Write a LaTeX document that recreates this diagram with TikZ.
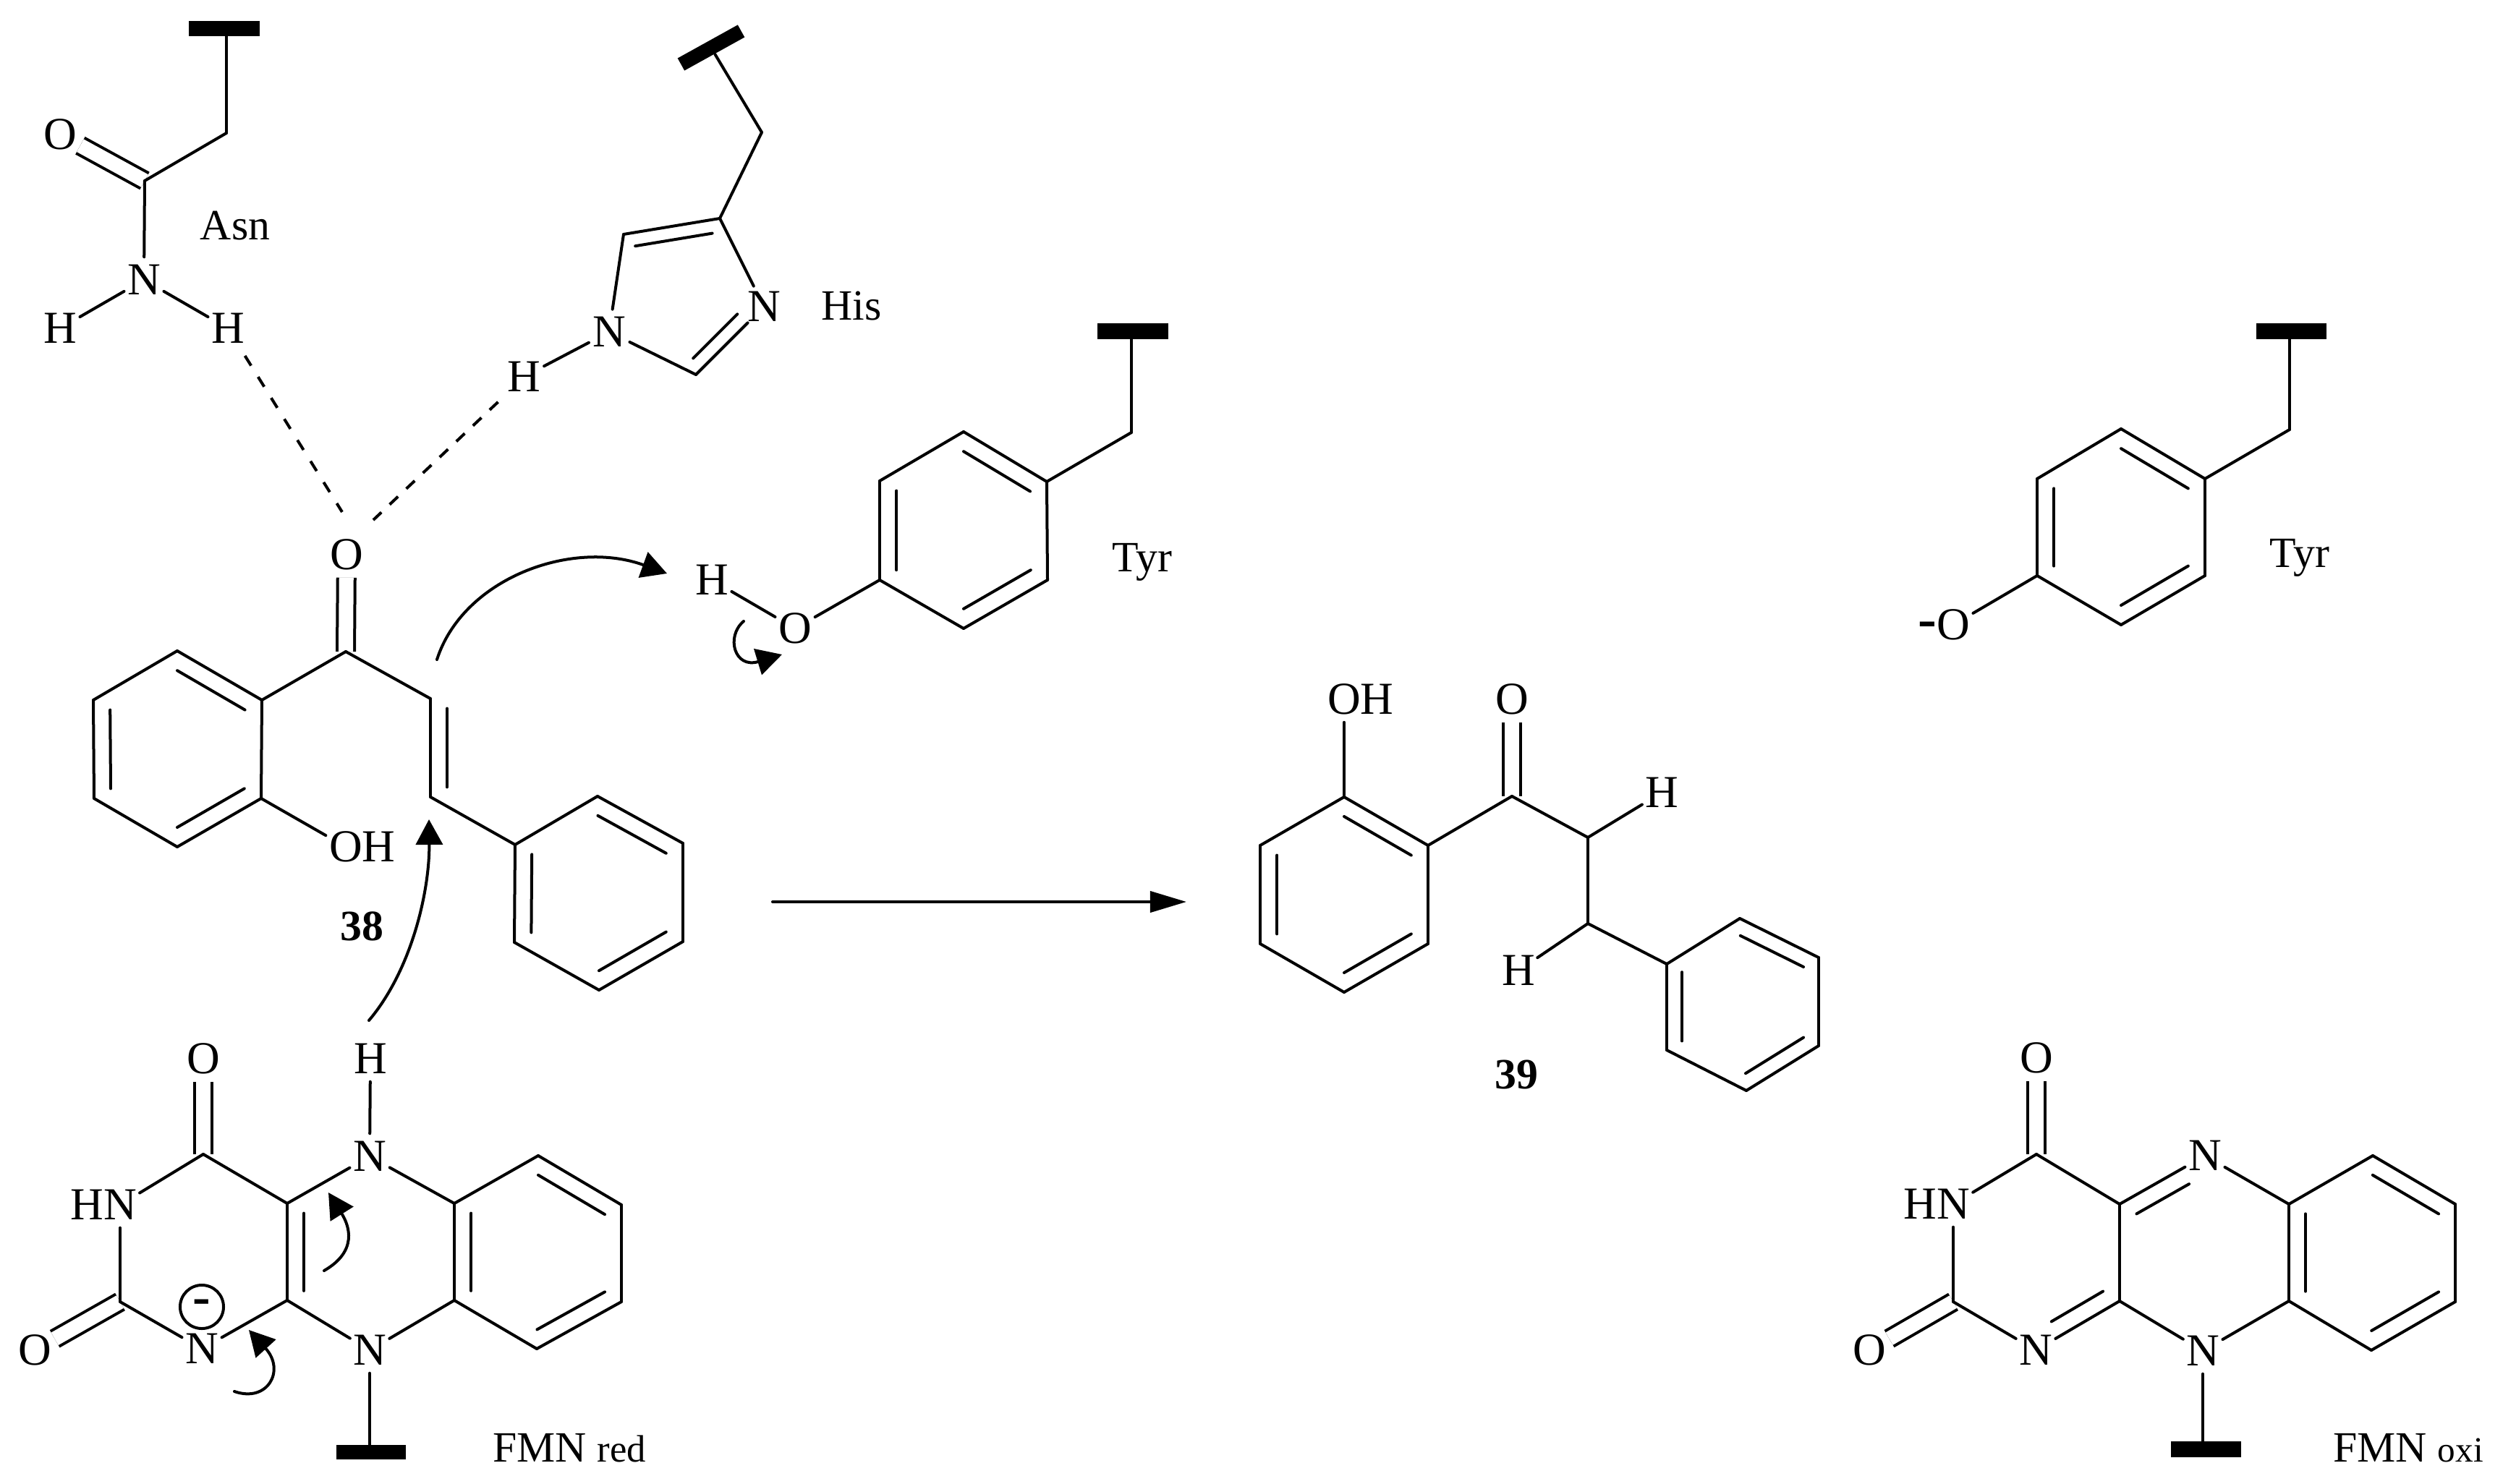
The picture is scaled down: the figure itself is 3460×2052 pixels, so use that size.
\documentclass[tikz,border=0pt]{standalone}
\usepackage{fontspec}
\setmainfont{Liberation Serif}
\usepackage{tikz}
\usetikzlibrary{shapes}
\usetikzlibrary{arrows.meta}
\usetikzlibrary{calc}
\tikzstyle{atom}=[circle,inner sep=0pt,minimum size=0.62cm,font=\fontsize{18}{21}\selectfont]
\tikzstyle{etiquette}=[anchor=base,inner sep=0pt,font=\fontsize{17}{20}\selectfont]
\tikzstyle{numero}=[etiquette,font=\fontsize{17}{20}\selectfont\bfseries]
\tikzstyle{barre}=[rectangle,fill=black,inner sep=0pt,minimum width=0.97cm,minimum height=0.21cm]
\tikzstyle{charge}=[circle,draw,line width=0.04cm,inner sep=0pt,minimum size=0.6cm,font=\fontsize{21}{24}\selectfont\bfseries]
\tikzstyle{bond}=[line width=0.04cm,line cap=round,line join=miter]
\tikzstyle{dbl}=[line width=0.04cm,double,double distance=0.2cm,line cap=butt]
\tikzstyle{hbond}=[line width=0.04cm,dash pattern=on 1.6mm off 1.83mm]
\tikzstyle{curly}=[->,>={Triangle[length=3.5mm,width=3.7mm]},line width=0.04cm,line cap=round]
\tikzstyle{suite}=[->,>={Triangle[length=5mm,width=2.9mm]},line width=0.04cm,line cap=round]
\newcommand{\ringbond}[4][0pt]{\draw[bond,shorten >=#1] ($(#2)!.2!(#4)$) -- ($(#3)!.2!(#4)$);}
\begin{document}
\begin{tikzpicture}[x=0.01cm,y=-0.01cm]
\useasboundingbox (0,0) rectangle (3460,2052);
%Asn
\node[barre] (asnbar) at (310,40) {};
\coordinate (asnch) at (313,184);
\coordinate (asnc) at (200,250);
\node[atom] (asno) at (83,186) {O};
\node[atom] (asnn) at (199,387) {N};
\node[atom] (asnha) at (83,454) {H};
\node[atom] (asnhb) at (315,454) {H};
\node[etiquette] (asnlab) at (325,332) {Asn};
\draw[dbl] (asno) -- (asnc);
\draw[bond] (asnch |- asnbar) -- (asnch);
\foreach \a/\b in {asnch/asnc,asnc/asnn,asnn/asnha,asnn/asnhb}
  \draw[bond] (\a) -- (\b);
%His
\node[barre,rotate=29,minimum width=0.95cm,minimum height=0.195cm] (hisbar) at (983,66) {};
\coordinate (hisch) at (1053,183);
\coordinate (hisa) at (995,302);
\coordinate (hisb) at (862,324);
\coordinate (hisd) at (962,518);
\coordinate (hisc) at (943,405);
\node[atom] (hisna) at (842,459) {N};
\node[atom] (hisnb) at (1056,424) {N};
\node[atom] (hish) at (724,521) {H};
\node[etiquette] (hislab) at (1177,443) {His};
\foreach \a/\b in {hisbar/hisch,hisch/hisa,hisa/hisb,hisb/hisna,hisna/hish,hisna/hisd,hisd/hisnb,hisnb/hisa}
  \draw[bond] (\a) -- (\b);
\ringbond{hisb}{hisa}{hisc}
\ringbond[0.2cm]{hisd}{hisnb}{hisc}
%38
\node[atom] (cono) at (479,767) {O};
\coordinate (conc) at (478,901);
\coordinate (vina) at (595,966);
\coordinate (vinb) at (595,1102);
\coordinate (vinc) at (710,1034);
\coordinate (aa) at (245,900);
\coordinate (ab) at (362,968);
\coordinate (ac) at (361,1104);
\coordinate (ad) at (245,1171);
\coordinate (ae) at (130,1104);
\coordinate (af) at (129,968);
\coordinate (acen) at (245,1036);
\node[atom] (aoh) at (478,1171) {O\rlap{H}};
\coordinate (ba) at (712,1168);
\coordinate (bb) at (826,1101);
\coordinate (bc) at (944,1166);
\coordinate (bd) at (944,1302);
\coordinate (be) at (828,1369);
\coordinate (bf) at (711,1303);
\coordinate (bcen) at (828,1235);
\node[numero] (num38) at (500,1300) {38};
\draw[dbl] (cono) -- (conc);
\foreach \a/\b in {conc/ab,conc/vina,vina/vinb,vinb/ba,aa/ab,ab/ac,ac/ad,ad/ae,ae/af,af/aa,ac/aoh,ba/bb,bb/bc,bc/bd,bd/be,be/bf,bf/ba}
  \draw[bond] (\a) -- (\b);
\ringbond{vina}{vinb}{vinc}
\ringbond{aa}{ab}{acen}
\ringbond{ac}{ad}{acen}
\ringbond{ae}{af}{acen}
\ringbond{bb}{bc}{bcen}
\ringbond{bd}{be}{bcen}
\ringbond{bf}{ba}{bcen}
%Tyr
\node[barre,minimum width=0.97cm,minimum height=0.21cm] (tyrbar) at (1566,458) {};
\coordinate (tyrch) at (1564,598);
\coordinate (ta) at (1332,597);
\coordinate (tb) at (1447,666);
\coordinate (tc) at (1448,802);
\coordinate (td) at (1332,869);
\coordinate (te) at (1216,802);
\coordinate (tf) at (1216,665);
\coordinate (tcen) at (1332,733);
\node[atom] (tyro) at (1099,869) {O};
\node[atom] (tyrh) at (984,802) {H};
\node[etiquette] (tyrlab) at (1579,790) {Tyr};
\draw[bond] (tyrch |- tyrbar) -- (tyrch);
\foreach \a/\b in {tyrch/tb,ta/tb,tb/tc,tc/td,td/te,te/tf,tf/ta,te/tyro,tyro/tyrh}
  \draw[bond] (\a) -- (\b);
\ringbond{ta}{tb}{tcen}
\ringbond{tc}{td}{tcen}
\ringbond{te}{tf}{tcen}
%FMN red
\node[atom] (ro) at (281,1464) {O};
\coordinate (rca) at (281,1596);
\node[atom] (rnh) at (166,1666) {\llap{H}N};
\coordinate (rcb) at (166,1800);
\node[atom] (roo) at (48,1867) {O};
\node[atom] (rn) at (279,1865) {N};
\node[charge] (rmoins) at (279,1807) {-};
\coordinate (rcc) at (397,1798);
\coordinate (rcd) at (397,1664);
\node[atom] (rnb) at (511,1599) {N};
\node[atom] (rh) at (512,1464) {H};
\node[atom] (rnc) at (511,1867) {N};
\coordinate (rmid) at (512,1732);
\coordinate (ra) at (628,1664);
\coordinate (rb) at (744,1598);
\coordinate (rc) at (859,1666);
\coordinate (rd) at (859,1800);
\coordinate (re) at (742,1865);
\coordinate (rf) at (628,1798);
\coordinate (rbcen) at (744,1732);
\node[barre,minimum width=0.96cm,minimum height=0.2cm] (rbar) at (513,2008) {};
\node[etiquette] (rlab) at (787,2021) {FMN {\fontsize{15}{18}\selectfont red}};
\draw[dbl] (ro) -- (rca);
\draw[dbl] (roo) -- (rcb);
\foreach \a/\b in {rca/rnh,rca/rcd,rnh/rcb,rcb/rn,rn/rcc,rcc/rcd,rcd/rnb,rnb/rh,rnb/ra,rcc/rnc,rnc/rf,ra/rb,rb/rc,rc/rd,rd/re,re/rf,rf/ra}
  \draw[bond] (\a) -- (\b);
\draw[bond] (rnc) -- (rnc |- rbar);
\ringbond{rcc}{rcd}{rmid}
\ringbond{rf}{ra}{rbcen}
\ringbond{rb}{rc}{rbcen}
\ringbond{rd}{re}{rbcen}
%39
\node[atom] (poh) at (1858,967) {O\rlap{H}};
\node[atom] (po) at (2090,967) {O};
\coordinate (pc) at (2090,1101);
\coordinate (pch) at (2195,1158);
\coordinate (pcg) at (2195,1277);
\node[atom] (pha) at (2297,1096) {H};
\node[atom] (phb) at (2099,1342) {H};
\coordinate (ca) at (1858,1102);
\coordinate (cb) at (1974,1169);
\coordinate (cc) at (1974,1305);
\coordinate (cd) at (1858,1372);
\coordinate (ce) at (1742,1305);
\coordinate (cf) at (1742,1169);
\coordinate (ccen) at (1858,1237);
\coordinate (da) at (2304,1333);
\coordinate (db) at (2405,1270);
\coordinate (dc) at (2514,1324);
\coordinate (dd) at (2514,1446);
\coordinate (de) at (2414,1508);
\coordinate (df) at (2304,1452);
\coordinate (dcen) at (2409,1389);
\node[numero] (num39) at (2096,1505) {39};
\draw[dbl] (po) -- (pc);
\foreach \a/\b in {poh/ca,ca/cb,cb/cc,cc/cd,cd/ce,ce/cf,cf/ca,cb/pc,pc/pch,pch/pha,pch/pcg,pcg/phb,pcg/da,da/db,db/dc,dc/dd,dd/de,de/df,df/da}
  \draw[bond] (\a) -- (\b);
\ringbond{ca}{cb}{ccen}
\ringbond{cc}{cd}{ccen}
\ringbond{ce}{cf}{ccen}
\ringbond{db}{dc}{dcen}
\ringbond{dd}{de}{dcen}
\ringbond{df}{da}{dcen}
%Tyr droite
\node[barre] (qbar) at (3167,458) {};
\coordinate (qch) at (3165,594);
\coordinate (qa) at (2932,593);
\coordinate (qb) at (3048,662);
\coordinate (qc) at (3048,796);
\coordinate (qd) at (2932,864);
\coordinate (qe) at (2816,796);
\coordinate (qf) at (2816,662);
\coordinate (qcen) at (2932,729);
\node[atom] (qo) at (2700,864) {\llap{\raisebox{1pt}{\fontsize{22}{24}\selectfont\bfseries -}}O};
\node[etiquette] (qlab) at (3179,784) {Tyr};
\draw[bond] (qch |- qbar) -- (qch);
\foreach \a/\b in {qch/qb,qa/qb,qb/qc,qc/qd,qd/qe,qe/qf,qf/qa,qe/qo}
  \draw[bond] (\a) -- (\b);
\ringbond{qa}{qb}{qcen}
\ringbond{qc}{qd}{qcen}
\ringbond{qe}{qf}{qcen}
%FMN oxi
\node[atom] (xo) at (2815,1463) {O};
\coordinate (xca) at (2815,1596);
\node[atom] (xnh) at (2700,1665) {\llap{H}N};
\coordinate (xcb) at (2700,1800);
\node[atom] (xoo) at (2584,1867) {O};
\node[atom] (xn) at (2814,1867) {N};
\coordinate (xcc) at (2930,1799);
\coordinate (xcd) at (2930,1665);
\node[atom] (xnb) at (3048,1598) {N};
\node[atom] (xnc) at (3045,1868) {N};
\coordinate (xcen) at (2815,1732);
\coordinate (xmid) at (3047,1732);
\coordinate (xa) at (3164,1665);
\coordinate (xb) at (3280,1598);
\coordinate (xc) at (3394,1665);
\coordinate (xd) at (3394,1800);
\coordinate (xe) at (3278,1867);
\coordinate (xf) at (3164,1799);
\coordinate (xbcen) at (3279,1732);
\node[barre,minimum height=0.22cm] (xbar) at (3049,2004) {};
\node[etiquette] (xlab) at (3329,2021) {FMN {\fontsize{14}{17}\selectfont oxi}};
\draw[dbl] (xo) -- (xca);
\draw[dbl] (xoo) -- (xcb);
\foreach \a/\b in {xca/xnh,xca/xcd,xnh/xcb,xcb/xn,xn/xcc,xcc/xcd,xcd/xnb,xcc/xnc,xnb/xa,xnc/xf,xa/xb,xb/xc,xc/xd,xd/xe,xe/xf,xf/xa}
  \draw[bond] (\a) -- (\b);
\draw[bond] (xnc) -- (xnc |- xbar);
\ringbond[0.25cm]{xcd}{xnb}{xmid}
\ringbond[0.25cm]{xcc}{xn}{xcen}
\ringbond{xf}{xa}{xbcen}
\ringbond{xb}{xc}{xbcen}
\ringbond{xd}{xe}{xbcen}
%liaisons hydrogene
\coordinate (hba) at (473,708);
\coordinate (hbb) at (516,719);
\draw[hbond,shorten <=1.3mm] (asnhb) -- (hba);
\draw[hbond,shorten <=1.8mm,dash pattern=on 1.6mm off 1.57mm] (hish.south west) -- (hbb);
%fleches
\coordinate (fa) at (604,912);
\coordinate (fb) at (922,793);
\coordinate (fc) at (510,1411);
\coordinate (fd) at (593,1133);
\coordinate (fe) at (1028,859);
\coordinate (ff) at (1081,905);
\coordinate (fg) at (448,1757);
\coordinate (fh) at (454,1649);
\coordinate (fi) at (324,1924);
\coordinate (fj) at (344,1839);
\coordinate (fk) at (1068,1247);
\coordinate (fl) at (1640,1247);
\draw[curly] (fa) .. controls (640,800) and (790,745) .. (fb);
\draw[curly] (fc) .. controls (570,1340) and (594,1230) .. (fd);
\draw[curly] (fe) .. controls (1003,880) and (1015,925) .. (ff);
\draw[curly] (fg) .. controls (495,1730) and (483,1695) .. (fh);
\draw[curly] (fi) .. controls (370,1940) and (395,1895) .. (fj);
\draw[suite] (fk) -- (fl);
\end{tikzpicture}
\end{document}
